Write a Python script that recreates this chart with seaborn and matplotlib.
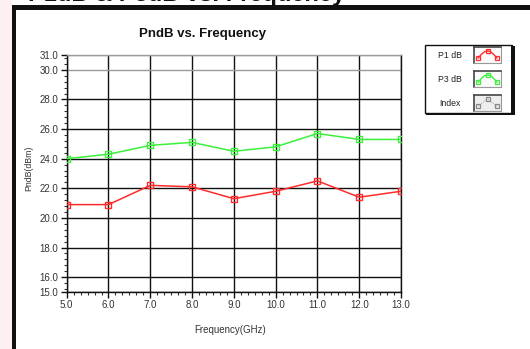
import matplotlib
matplotlib.use("Agg")
import matplotlib.pyplot as plt
import seaborn as sns
import pandas as pd
import numpy as np
from matplotlib.patches import Rectangle

# Measured compression points versus frequency
freq_ghz = [5.0, 6.0, 7.0, 8.0, 9.0, 10.0, 11.0, 12.0, 13.0]
p1db = [20.9, 20.9, 22.2, 22.1, 21.3, 21.8, 22.5, 21.4, 21.8]
p3db = [24.0, 24.3, 24.9, 25.1, 24.5, 24.8, 25.7, 25.3, 25.3]
series_names = ["P1 dB", "P3 dB", "Index"]
x_ticks = [5, 6, 7, 8, 9, 10, 11, 12, 13]
y_ticks = [15, 16, 18, 20, 22, 24, 26, 28, 30, 31]

sns.set_theme(style="white")
plt.rcParams["font.family"] = ["Liberation Sans", "DejaVu Sans"]

W, H = 530, 349
fig = plt.figure(figsize=(W / 100, H / 100), dpi=100)
fig.patch.set_facecolor("white")


def fx(x):
    return x / W


def fy(y):
    return 1 - y / H


def rect(x0, y0, x1, y1, **kw):
    fig.patches.append(Rectangle((fx(x0), fy(y1)), fx(x1) - fx(x0), fy(y0) - fy(y1),
                                 transform=fig.transFigure, figure=fig, **kw))


# page background and panel frame
rect(0, 0, 12, H, facecolor="#fcf0f1", edgecolor="none", zorder=0)
rect(12, 5, 16, H, facecolor="#111111", edgecolor="none", zorder=1)
rect(12, 5, W, 9.5, facecolor="#111111", edgecolor="none", zorder=1)
fig.text(fx(28), fy(1.5), "P1dB & P3dB vs. Frequency", fontsize=17, fontweight="bold",
         ha="left", va="baseline", color="#111111")

# main plot area
ax = fig.add_axes([fx(66.7), fy(292), fx(401) - fx(66.7), fy(55) - fy(292)])
ax.set_facecolor("white")

df = pd.DataFrame({
    "Frequency": freq_ghz * 2,
    "PndB": p1db + p3db,
    "Series": [series_names[0]] * len(p1db) + [series_names[1]] * len(p3db),
})
colors = {series_names[0]: "#ff2b2b", series_names[1]: "#3cf03c"}
for name in series_names[:2]:
    sns.lineplot(data=df[df["Series"] == name], x="Frequency", y="PndB", color=colors[name],
                 marker="s", markersize=4.5, markerfacecolor="none",
                 markeredgecolor=colors[name], markeredgewidth=1.0,
                 linewidth=1.1, ax=ax, legend=False, zorder=4)

ax.set_xlim(5, 13)
ax.set_ylim(15, 31)
ax.set_xticks(x_ticks)
ax.set_xticklabels([f"{v:.1f}" for v in x_ticks])
ax.set_yticks(y_ticks)
ax.set_yticklabels([f"{v:.1f}" for v in y_ticks])
ax.set_xticks([5 + k / 6 for k in range(49) if k % 6], minor=True)
ax.set_yticks([16 + 0.4 * k for k in range(-2, 38) if (16 + 0.4 * k) >= 15 and (k % 5)], minor=True)
ax.set_xlabel("")
ax.set_ylabel("")

ax.grid(True, which="major", color="#111111", linewidth=1.0)
for line, v in zip(ax.get_ygridlines(), y_ticks):
    if v >= 30:
        line.set_color("#9a9a9a")
ax.set_axisbelow(True)

for side in ["left", "bottom", "right"]:
    ax.spines[side].set_color("#111111")
    ax.spines[side].set_linewidth(1.0)
ax.spines["top"].set_color("#9a9a9a")
ax.spines["top"].set_linewidth(1.0)

ax.tick_params(which="major", direction="out", length=4, width=1, color="#111111",
               labelsize=7, labelcolor="#333333", pad=2)
ax.tick_params(which="minor", direction="out", length=2, width=0.8, color="#333333")
ax.tick_params(axis="x", which="both", bottom=True, top=False)
ax.tick_params(axis="y", which="both", left=True, right=False)

fig.text(fx(203), fy(34), "PndB vs. Frequency", fontsize=9.5, fontweight="bold",
         ha="center", va="center", color="#111111")
fig.text(fx(29), fy(168), "PndB(dBm)", fontsize=6.3, rotation=90,
         ha="center", va="center", color="#333333")
fig.text(fx(230), fy(330), "Frequency(GHz)", fontsize=7,
         ha="center", va="center", color="#333333")

# legend panel
rect(425, 45, 512, 113, facecolor="white", edgecolor="#111111", linewidth=1.0, zorder=2)
rect(511, 46, 515, 114.5, facecolor="#111111", edgecolor="none", zorder=3)
rect(426, 112.5, 515, 114.5, facecolor="#111111", edgecolor="none", zorder=3)

icon_colors = [colors[series_names[0]], colors[series_names[1]], "#888888"]
label_y = [55, 79, 103]
icon_top = [47, 71, 95]
for name, c, ly, it in zip(series_names, icon_colors, label_y, icon_top):
    fig.text(fx(450), fy(ly), name, fontsize=6.3, ha="center", va="center",
             color="#222222", zorder=5)
    iax = fig.add_axes([fx(474), fy(it + 16), fx(501) - fx(474), fy(it) - fy(it + 16)])
    iax.set_zorder(6)
    iax.set_xlim(0, 1)
    iax.set_ylim(0, 1)
    iax.set_xticks([])
    iax.set_yticks([])
    iax.set_facecolor("#fafafa" if name != "Index" else "#eeeeee")
    for side in ["top", "left"]:
        iax.spines[side].set_color("#444444")
        iax.spines[side].set_linewidth(1.2)
    for side in ["bottom", "right"]:
        iax.spines[side].set_color("#999999")
        iax.spines[side].set_linewidth(0.8)
    t = np.linspace(0, 1, 21)
    if name == "Index":
        iax.plot([0.15, 0.5, 0.85], [0.3, 0.75, 0.3], color=c, linewidth=0.6,
                 linestyle=(0, (1, 1.5)))
    else:
        iax.plot(0.15 + 0.7 * t, 0.3 + 0.45 * np.sin(np.pi * t), color=c, linewidth=1.0)
    iax.plot([0.15, 0.5, 0.85], [0.3, 0.78, 0.3], linestyle="none", marker="s",
             markersize=3.2, markerfacecolor="none", markeredgecolor=c, markeredgewidth=0.9)

fig.savefig("out.png", dpi=100, facecolor=fig.get_facecolor())
